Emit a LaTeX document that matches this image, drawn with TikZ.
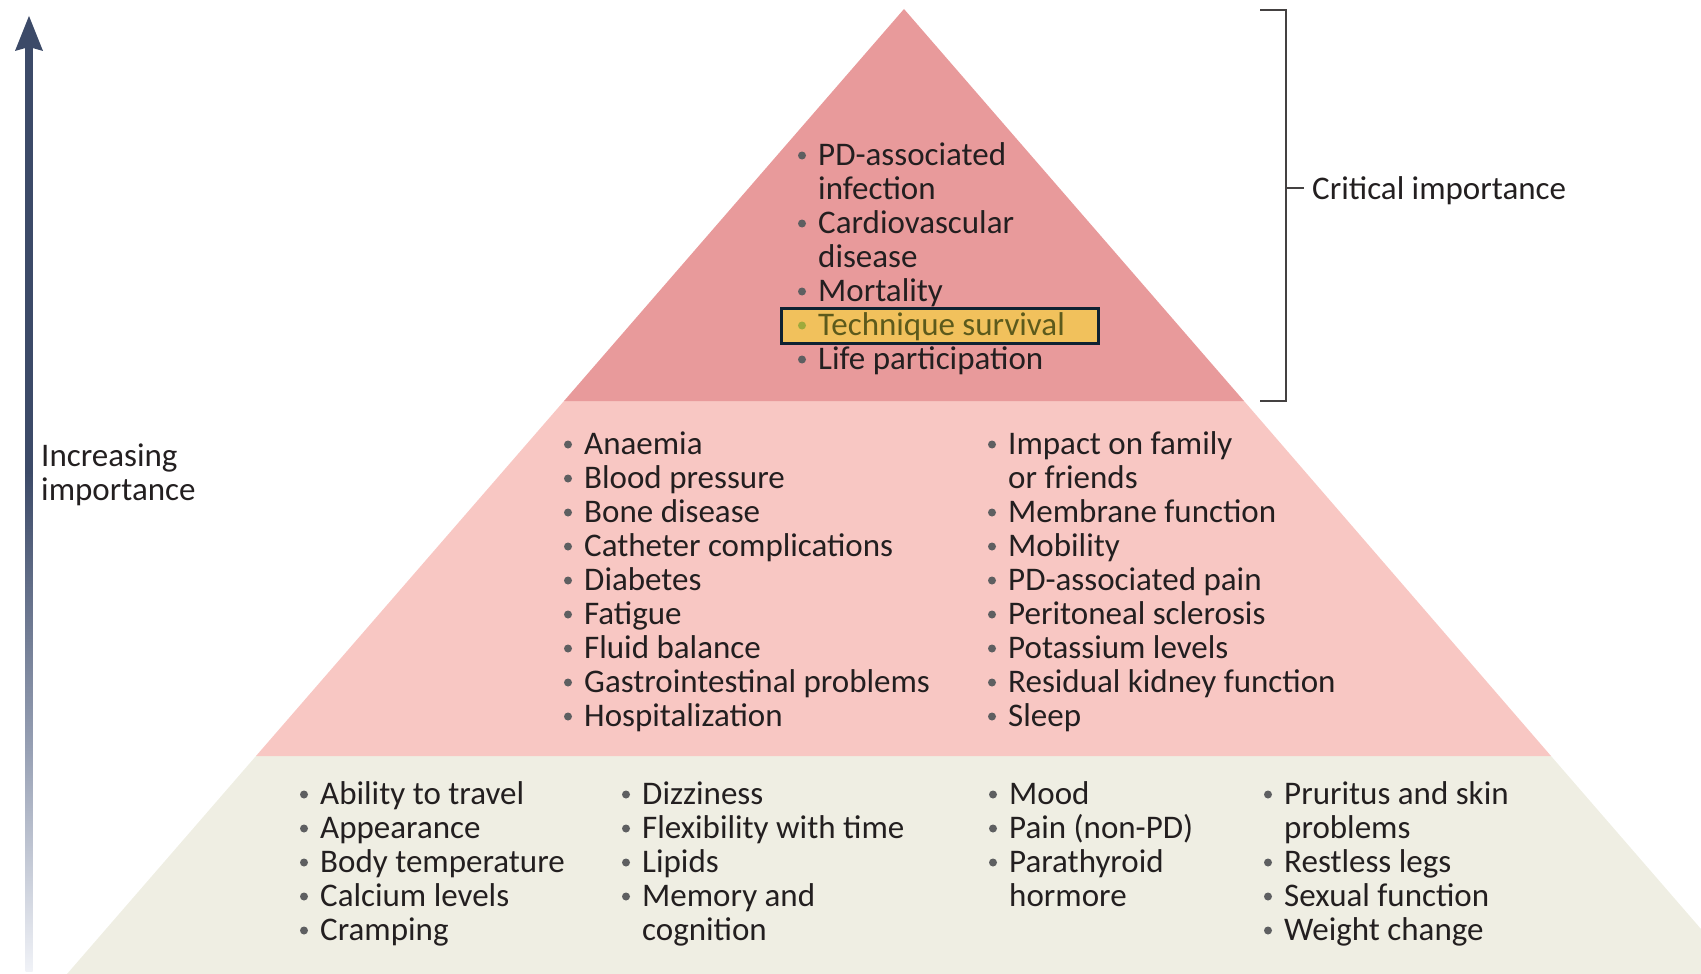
\documentclass[tikz,border=0pt]{standalone}
\usepackage{fontspec}
\setmainfont{Carlito}
\definecolor{ink}{HTML}{231F20}
\definecolor{dotc}{HTML}{5E5F61}
\definecolor{tiertop}{HTML}{E89A9B}
\definecolor{tiermid}{HTML}{F8C7C3}
\definecolor{tierlow}{HTML}{EFEEE3}
\definecolor{hlfill}{HTML}{F1C15C}
\definecolor{hlframe}{HTML}{0E2232}
\definecolor{hltext}{HTML}{5C5A1C}
\definecolor{hldot}{HTML}{9EAA3C}
\definecolor{arrowc}{HTML}{3C4A68}
\definecolor{arrowmid}{HTML}{97A0B4}
\definecolor{arrowpale}{HTML}{F0F2F7}
% shaft of the importance arrow: solid above, fading out towards the foot
% (the path is stretched over the 25bp--75bp band of the shading)
\pgfdeclareverticalshading{shaftfade}{100bp}{%
  color(0bp)=(arrowpale); color(25bp)=(arrowpale); color(37bp)=(arrowmid);
  color(52bp)=(arrowc); color(100bp)=(arrowc)}
\tikzset{
  txt/.style={anchor=base west, inner sep=0pt, font=\fontsize{33}{34}\selectfont, text=ink},
  bracketline/.style={draw=ink!85, line width=2pt},
}
% one bulleted entry: node plus its grey dot
\newcommand\pitem[5][dotc]{%
  \node[txt] (#2) at (#3,#4) {#5};
  \fill[#1] ([xshift=-16pt,yshift=9.5pt]#2.base west) circle (4pt);}
% continuation line of an entry, no dot
\newcommand\pcont[4]{\node[txt] (#1) at (#2,#3) {#4};}
\begin{document}
\begin{tikzpicture}[x=1pt,y=-1pt]
\useasboundingbox (0,0) rectangle (1701,974);

% pyramid tiers
\fill[tierlow] (256,756) -- (1551,756) -- (1701,929) -- (1701,974) -- (67,974) -- cycle;
\fill[tiermid] (564,401) -- (1244,401) -- (1551,756) -- (256,756) -- cycle;
\fill[tiertop] (904,9) -- (1244,401) -- (564,401) -- cycle;

% increasing-importance arrow
\coordinate (arrowfoot) at (29,971);
\coordinate (arrowtip) at (29,16);
\shade[shading=shaftfade] (25.5,47) rectangle (32.5,971);
\fill[arrowc] (arrowtip) -- (43,51) -- (29,47) -- (15,51) -- cycle;
\node[txt] (inc1) at (41,466) {Increasing};
\node[txt] (inc2) at (41,500) {importance};

% bracket for the top tier
\coordinate (bt0) at (1260,10);
\coordinate (bt1) at (1286,10);
\coordinate (bb1) at (1286,401);
\coordinate (bb0) at (1260,401);
\coordinate (bm) at (1286,188);
\node[txt] (crit) at (1312,199) {Critical importance};
\draw[bracketline] (bt0) -- (bt1) -- (bb1) -- (bb0);
\draw[bracketline] (bm) -- ([xshift=-8pt]crit.west |- bm);

% top tier
\fill[hlfill, draw=hlframe, line width=3pt] (781,308) rectangle (1098,343);
\pitem{c1}{818}{165}{PD-associated}
\pcont{c1b}{818}{199}{infection}
\pitem{c2}{818}{233}{Cardiovascular}
\pcont{c2b}{818}{267}{disease}
\pitem{c3}{818}{301}{Mortality}
\pitem[hldot]{c4}{818}{335}{\textcolor{hltext}{Technique survival}}
\pitem{c5}{818}{369}{Life participation}

% middle tier, left column
\pitem{m1}{584}{454}{Anaemia}
\pitem{m2}{584}{488}{Blood pressure}
\pitem{m3}{584}{522}{Bone disease}
\pitem{m4}{584}{556}{Catheter complications}
\pitem{m5}{584}{590}{Diabetes}
\pitem{m6}{584}{624}{Fatigue}
\pitem{m7}{584}{658}{Fluid balance}
\pitem{m8}{584}{692}{Gastrointestinal problems}
\pitem{m9}{584}{726}{Hospitalization}

% middle tier, right column
\pitem{n1}{1008}{454}{Impact on family}
\pcont{n1b}{1008}{488}{or friends}
\pitem{n2}{1008}{522}{Membrane function}
\pitem{n3}{1008}{556}{Mobility}
\pitem{n4}{1008}{590}{PD-associated pain}
\pitem{n5}{1008}{624}{Peritoneal sclerosis}
\pitem{n6}{1008}{658}{Potassium levels}
\pitem{n7}{1008}{692}{Residual kidney function}
\pitem{n8}{1008}{726}{Sleep}

% bottom tier
\pitem{a1}{320}{804}{Ability to travel}
\pitem{a2}{320}{838}{Appearance}
\pitem{a3}{320}{872}{Body temperature}
\pitem{a4}{320}{906}{Calcium levels}
\pitem{a5}{320}{940}{Cramping}

\pitem{b1}{642}{804}{Dizziness}
\pitem{b2}{642}{838}{Flexibility with time}
\pitem{b3}{642}{872}{Lipids}
\pitem{b4}{642}{906}{Memory and}
\pcont{b4b}{642}{940}{cognition}

\pitem{d1}{1009}{804}{Mood}
\pitem{d2}{1009}{838}{Pain (non-PD)}
\pitem{d3}{1009}{872}{Parathyroid}
\pcont{d3b}{1009}{906}{hormore}

\pitem{e1}{1284}{804}{Pruritus and skin}
\pcont{e1b}{1284}{838}{problems}
\pitem{e2}{1284}{872}{Restless legs}
\pitem{e3}{1284}{906}{Sexual function}
\pitem{e4}{1284}{940}{Weight change}
\end{tikzpicture}
\end{document}
